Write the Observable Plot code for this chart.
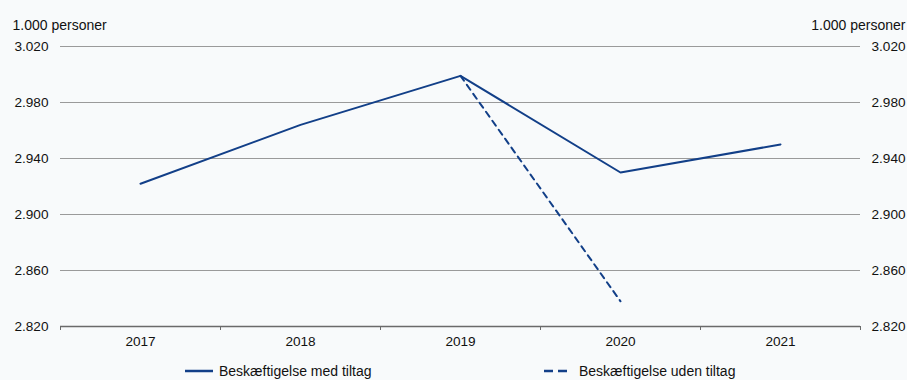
<!DOCTYPE html>
<html>
<head>
<meta charset="utf-8">
<script src="https://cdn.jsdelivr.net/npm/d3@7"></script>
<script src="https://cdn.jsdelivr.net/npm/@observablehq/plot@0.6"></script>
<style>
  html, body { margin: 0; padding: 0; background: #f8fafb; overflow: hidden; }
  body { width: 907px; height: 380px; font-family: "Liberation Sans", Arial, sans-serif; }
  #wrap { position: relative; width: 907px; height: 380px; }
  #legend { position: absolute; top: 363px; left: 0; width: 907px; height: 16px; font-size: 14px; line-height: 16px; color: #111; }
  .item { position: absolute; top: 0; display: flex; align-items: center; white-space: nowrap; }
  .item svg { display: block; }
</style>
</head>
<body>
<div id="wrap">
  <div id="chart"></div>
  <div id="legend"></div>
</div>
<script>
// Beskæftigelse, 1.000 personer
const years = [2017, 2018, 2019, 2020, 2021];
const medTiltag = [2922, 2964, 2999, 2930, 2950];
const udenTiltagYears = [2019, 2020];
const udenTiltag = [2999, 2838];
const yTicks = [2820, 2860, 2900, 2940, 2980, 3020];
const unitLabel = "1.000 personer";
const seriesNames = ["Beskæftigelse med tiltag", "Beskæftigelse uden tiltag"];

const blue = "#123f88";
const da = d3.formatLocale({decimal: ",", thousands: ".", grouping: [3], currency: ["", " kr."]});
const fmt = da.format(",");

const solid = years.map((year, i) => ({year, value: medTiltag[i]}));
const dashed = udenTiltagYears.map((year, i) => ({year, value: udenTiltag[i]}));
// Tick marks sit between the year categories
const boundaries = [years[0] - 0.5, ...years.map(y => y + 0.5)];

const chart = Plot.plot({
  width: 907,
  height: 362,
  marginLeft: 60,
  marginRight: 47,
  marginTop: 46,
  marginBottom: 36,
  style: {background: "transparent", fontFamily: "Liberation Sans, Arial, sans-serif", fontSize: "13.6px", color: "#111"},
  x: {domain: [years[0] - 0.5, years[years.length - 1] + 0.5]},
  y: {domain: [yTicks[0], yTicks[yTicks.length - 1]]},
  marks: [
    Plot.ruleY(yTicks.slice(1), {stroke: "#9a9a9a", strokeWidth: 1}),
    Plot.ruleY([yTicks[0]], {stroke: "#6a6a6a", strokeWidth: 1.3}),
    Plot.axisX(boundaries, {tickSize: 4, tickFormat: () => "", stroke: "#6a6a6a", label: null}),
    Plot.axisX(years, {tickSize: 0, tickPadding: 10, tickFormat: d => String(d), label: null, fill: "#111"}),
    Plot.axisY(yTicks, {anchor: "left", tickSize: 0, tickPadding: 12, tickFormat: fmt, label: null, fill: "#111"}),
    Plot.axisY(yTicks, {anchor: "right", tickSize: 0, tickPadding: 11, tickFormat: fmt, label: null, fill: "#111"}),
    Plot.text([unitLabel], {frameAnchor: "top-left", dx: -48, dy: -26, textAnchor: "start", fill: "#111", fontSize: 14}),
    Plot.text([unitLabel], {frameAnchor: "top-right", dx: 45, dy: -26, textAnchor: "end", fill: "#111", fontSize: 14}),
    Plot.line(dashed, {x: "year", y: "value", stroke: blue, strokeWidth: 2, strokeDasharray: "6,5"}),
    Plot.line(solid, {x: "year", y: "value", stroke: blue, strokeWidth: 2})
  ]
});
document.getElementById("chart").appendChild(chart);

// Legend below the chart
const legend = document.getElementById("legend");
const legendItems = [
  {name: seriesNames[0], dash: null, left: 185, w: 28, gap: 6},
  {name: seriesNames[1], dash: "9,5", left: 544, w: 23, gap: 12}
];
for (const it of legendItems) {
  const div = document.createElement("div");
  div.className = "item";
  div.style.left = it.left + "px";
  div.style.gap = it.gap + "px";
  div.innerHTML = `<svg width="${it.w}" height="4"><line x1="0" x2="${it.w}" y1="2" y2="2" stroke="${blue}" stroke-width="2.5"${it.dash ? ` stroke-dasharray="${it.dash}"` : ""}/></svg><span>${it.name}</span>`;
  legend.appendChild(div);
}
</script>
</body>
</html>
